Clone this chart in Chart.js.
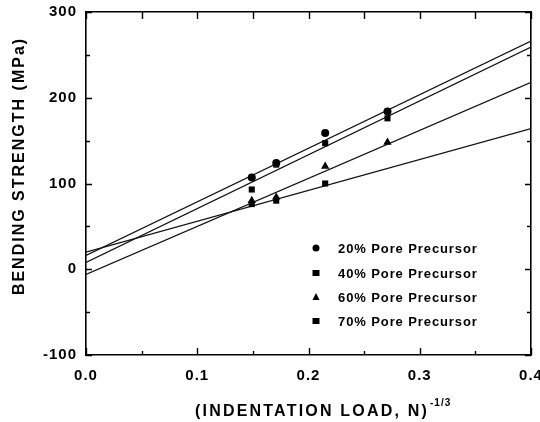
<!DOCTYPE html>
<html>
<head>
<meta charset="utf-8">
<script src="https://cdn.jsdelivr.net/npm/chart.js@4.4.1/dist/chart.umd.min.js"></script>
<style>
  html, body { margin: 0; padding: 0; background: #fff; }
  #wrap { width: 540px; height: 422px; position: relative; }
</style>
</head>
<body>
<div id="wrap"><canvas id="myChart"></canvas></div>
<script>
// measured points (x = load^-1/3)
const loadX = [0.149, 0.171, 0.215, 0.271];
const pore20 = [107, 124, 159, 184];
const pore40 = [93, 122, 147, 176];
const pore60 = [80, 84, 120, 148];
const load70X = [0.149, 0.171, 0.215];
const pore70 = [76, 80, 100];

// fitted lines, value at x = 0 and x = 0.4
const fitX = [0, 0.4];
const fit20 = [16, 266];
const fit40 = [8, 259];
const fit60 = [-6, 218];
const fit70 = [20, 164];

const seriesLabels = ['20% Pore Precursor', '40% Pore Precursor', '60% Pore Precursor', '70% Pore Precursor'];
const pointStyles = ['circle', 'rect', 'triangle', 'rect'];
const xTickLabels = ['0.0', '0.1', '0.2', '0.3', '0.4'];
const yTickLabels = ['-100', '0', '100', '200', '300'];

const xTitle = '(INDENTATION LOAD, N)';
const xTitleSup = '-1/3';
const yTitle = 'BENDING STRENGTH (MPa)';

const FONT = '"Liberation Sans", Arial, sans-serif';

function pts(xs, ys) {
  return xs.map((x, i) => ({ x: x, y: ys[i] }));
}

function scatterSet(label, xs, ys, style, r) {
  return {
    type: 'scatter',
    label: label,
    data: pts(xs, ys),
    pointStyle: style,
    pointRadius: r,
    backgroundColor: '#000',
    borderColor: '#000',
    borderWidth: 0
  };
}

function fitSet(ys) {
  return {
    type: 'line',
    data: pts(fitX, ys),
    borderColor: '#111',
    borderWidth: 1.2,
    pointRadius: 0,
    fill: false
  };
}

// ticks inside the frame, legend and axis titles
const decor = {
  id: 'decor',
  beforeDraw(chart) {
    // the scanned labels are spaced out a bit
    chart.ctx.letterSpacing = '1px';
  },
  afterDraw(chart) {
    const c = chart.ctx;
    const a = chart.chartArea;
    const xs = chart.scales.x, ys = chart.scales.y;
    c.save();
    c.strokeStyle = '#000';
    c.lineWidth = 1.4;
    c.beginPath();
    for (let v = 0; v <= 0.4001; v += 0.05) {
      const px = Math.round(xs.getPixelForValue(v)) + 0.5;
      const major = Math.abs(v * 10 - Math.round(v * 10)) < 1e-6;
      const len = major ? 7 : 4;
      c.moveTo(px, a.bottom); c.lineTo(px, a.bottom - len);
      c.moveTo(px, a.top); c.lineTo(px, a.top + 7);
    }
    for (let v = -100; v <= 300; v += 50) {
      const py = Math.round(ys.getPixelForValue(v)) + 0.5;
      const len = v % 100 === 0 ? 6 : 4;
      c.moveTo(a.left, py); c.lineTo(a.left + len, py);
      c.moveTo(a.right, py); c.lineTo(a.right - len, py);
    }
    c.stroke();

    // legend
    c.fillStyle = '#000';
    c.font = 'bold 13px ' + FONT;
    c.letterSpacing = '0.9px';
    c.textBaseline = 'middle';
    const rowY = [248, 273, 297, 321];
    seriesLabels.forEach((lab, i) => {
      const mx = 316, my = rowY[i];
      c.beginPath();
      if (pointStyles[i] === 'circle') {
        c.arc(mx, my, 3.5, 0, Math.PI * 2);
      } else if (pointStyles[i] === 'rect') {
        c.rect(mx - 3.5, my - 3, 7, 6);
      } else {
        c.moveTo(mx, my - 4); c.lineTo(mx + 3.5, my + 3); c.lineTo(mx - 3.5, my + 3); c.closePath();
      }
      c.fill();
      c.fillText(lab, 338, my + 1);
    });

    // x title with superscript
    c.letterSpacing = '2.2px';
    c.font = 'bold 16px ' + FONT;
    c.textBaseline = 'alphabetic';
    c.textAlign = 'left';
    const w = c.measureText(xTitle).width;
    c.fillText(xTitle, 195, 416);
    c.letterSpacing = '1px';
    c.font = 'bold 10px ' + FONT;
    c.fillText(xTitleSup, 195 + w + 1, 406);

    // y title
    c.letterSpacing = '2px';
    c.translate(20, 166);
    c.rotate(-Math.PI / 2);
    c.font = 'bold 16px ' + FONT;
    c.textAlign = 'center';
    c.textBaseline = 'middle';
    c.fillText(yTitle, 0, 0);
    c.restore();
  }
};

const ctx = document.getElementById('myChart');

new Chart(ctx, {
  data: {
    datasets: [
      scatterSet(seriesLabels[0], loadX, pore20, 'circle', 4),
      scatterSet(seriesLabels[1], loadX, pore40, 'rect', 4.3),
      scatterSet(seriesLabels[2], loadX, pore60, 'triangle', 4.8),
      scatterSet(seriesLabels[3], load70X, pore70, 'rect', 4.3),
      fitSet(fit20),
      fitSet(fit40),
      fitSet(fit60),
      fitSet(fit70)
    ]
  },
  options: {
    responsive: true,
    maintainAspectRatio: false,
    animation: false,
    layout: { padding: { top: 12, right: 9, left: 0, bottom: 0 } },
    plugins: {
      legend: { display: false },
      tooltip: { enabled: false }
    },
    scales: {
      x: {
        type: 'linear',
        min: 0, max: 0.4,
        afterFit: s => { s.height = 67; s.paddingLeft = 0; s.paddingRight = 0; },
        grid: { display: false, drawTicks: false },
        border: { display: true, color: '#000', width: 1.6 },
        ticks: {
          stepSize: 0.1,
          padding: 12,
          color: '#000',
          maxRotation: 0,
          font: { family: FONT, size: 15, weight: 'bold' },
          callback: (v) => xTickLabels[Math.round(v * 10)]
        }
      },
      x2: {
        type: 'linear', position: 'top', min: 0, max: 0.4,
        display: true,
        afterFit: s => { s.height = 0; s.paddingLeft = 0; s.paddingRight = 0; },
        grid: { display: false, drawTicks: false },
        border: { display: true, color: '#000', width: 1.6 },
        ticks: { display: false }
      },
      y: {
        min: -100, max: 300,
        afterFit: s => { s.width = 86; s.paddingTop = 0; s.paddingBottom = 0; },
        grid: { display: false, drawTicks: false },
        border: { display: true, color: '#000', width: 1.6 },
        ticks: {
          stepSize: 100,
          padding: 9,
          color: '#000',
          font: { family: FONT, size: 15, weight: 'bold' },
          callback: (v) => yTickLabels[Math.round((v + 100) / 100)]
        }
      },
      y2: {
        position: 'right', min: -100, max: 300,
        display: true,
        afterFit: s => { s.width = 0; s.paddingTop = 0; s.paddingBottom = 0; },
        grid: { display: false, drawTicks: false },
        border: { display: true, color: '#000', width: 1.6 },
        ticks: { display: false }
      }
    }
  },
  plugins: [decor]
});
</script>
</body>
</html>
